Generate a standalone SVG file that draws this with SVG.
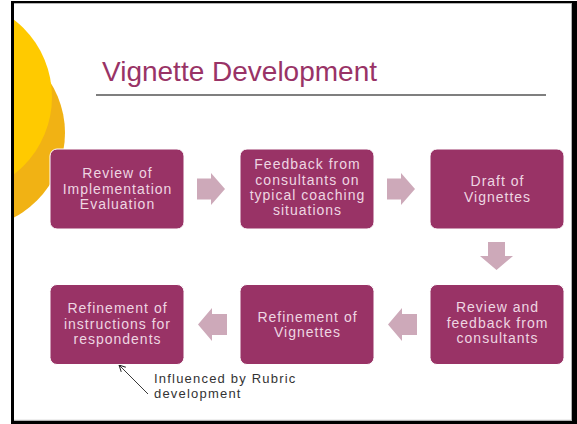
<svg xmlns="http://www.w3.org/2000/svg" width="577" height="424" viewBox="0 0 577 424">
<style>
.box{fill:#993366;stroke:#ffffff;stroke-width:1}
.lbl{font-family:"Liberation Sans",Arial,sans-serif;font-size:14px;letter-spacing:1px;fill:#EED6E2;text-anchor:middle}
.arr{fill:#CDA9B9}
.note{font-family:"Liberation Sans",Arial,sans-serif;font-size:13px;letter-spacing:1.2px;fill:#333333}
</style>
<defs>
<clipPath id="slide"><rect x="14" y="3" width="558" height="418"/></clipPath>
<marker id="open" viewBox="0 0 10 10" refX="9" refY="5" markerWidth="8" markerHeight="8" orient="auto" markerUnits="userSpaceOnUse">
<path d="M1,1 L9,5 L1,9" fill="none" stroke="#222" stroke-width="1.2"/>
</marker>
</defs>
<rect x="0" y="0" width="577" height="424" fill="#ffffff"/>
<rect x="11" y="1" width="566" height="423" fill="#000000"/>
<rect x="14" y="3.3" width="558" height="417.5" fill="#ffffff"/>
<line x1="14" y1="420.3" x2="572" y2="420.3" stroke="#b0b0b0" stroke-width="1"/>
<line x1="571.5" y1="3.3" x2="571.5" y2="420.8" stroke="#b0b0b0" stroke-width="1"/>
<g id="decor" clip-path="url(#slide)">
<circle cx="-30.6" cy="133" r="95.6" fill="#F1B214"/>
<circle cx="-45.6" cy="97" r="97.6" fill="#FFCA00"/>
</g>
<g id="title">
<text x="102" y="81" font-family="Liberation Sans,Arial,sans-serif" font-size="28" fill="#993366">Vignette Development</text>
<rect x="96" y="94" width="450" height="2" fill="#7f7f7f"/>
</g>
<g id="connectors">
<path class="arr" d="M197,178.5 H211 V173 L225,189 L211,205 V199.5 H197 Z"/>
<path class="arr" d="M387,178.5 H401 V173 L415,189 L401,205 V199.5 H387 Z"/>
<path class="arr" d="M488,242 V256 H480 L496.5,270 L513,256 H505 V242 Z"/>
<path class="arr" d="M417,314 H402 V308 L388,324.5 L402,341 V335 H417 Z"/>
<path class="arr" d="M227,314 H212 V308 L198,324.5 L212,341 V335 H227 Z"/>
<line x1="148" y1="394" x2="119" y2="365" stroke="#222" stroke-width="0.9" marker-end="url(#open)"/>
</g>
<g id="n1">
<rect class="box" x="50" y="149" width="134" height="80" rx="7"/>
<text class="lbl" x="117.5" y="178">Review of</text>
<text class="lbl" x="117.5" y="193.5">Implementation</text>
<text class="lbl" x="117.5" y="209">Evaluation</text>
</g>
<g id="n2">
<rect class="box" x="240" y="149" width="134" height="80" rx="7"/>
<text class="lbl" x="307.5" y="169.3">Feedback from</text>
<text class="lbl" x="307.5" y="184.5">consultants on</text>
<text class="lbl" x="307.5" y="199.7">typical coaching</text>
<text class="lbl" x="307.5" y="215">situations</text>
</g>
<g id="n3">
<rect class="box" x="430" y="149" width="134" height="80" rx="7"/>
<text class="lbl" x="497.5" y="186">Draft of</text>
<text class="lbl" x="497.5" y="201.5">Vignettes</text>
</g>
<g id="n4">
<rect class="box" x="430" y="284.5" width="134" height="80" rx="7"/>
<text class="lbl" x="497.5" y="312.3">Review and</text>
<text class="lbl" x="497.5" y="327.7">feedback from</text>
<text class="lbl" x="497.5" y="343.2">consultants</text>
</g>
<g id="n5">
<rect class="box" x="240" y="284.5" width="134" height="80" rx="7"/>
<text class="lbl" x="307.5" y="322.3">Refinement of</text>
<text class="lbl" x="307.5" y="337.3">Vignettes</text>
</g>
<g id="n6">
<rect class="box" x="50" y="284.5" width="134" height="80" rx="7"/>
<text class="lbl" x="117.5" y="313.3">Refinement of</text>
<text class="lbl" x="117.5" y="329">instructions for</text>
<text class="lbl" x="117.5" y="344.3">respondents</text>
</g>
<g id="note">
<text class="note" x="154" y="383">Influenced by Rubric</text>
<text class="note" x="154" y="398">development</text>
</g>
</svg>
